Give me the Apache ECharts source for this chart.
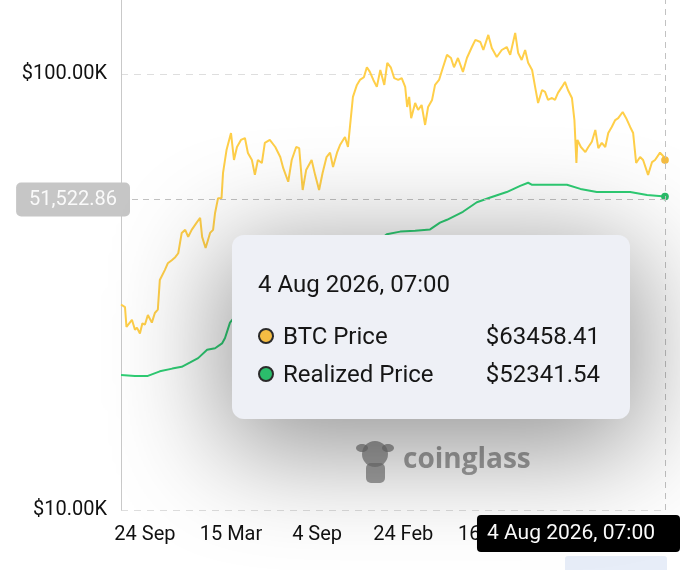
<!DOCTYPE html>
<html><head><meta charset="utf-8">
<script src="https://cdn.jsdelivr.net/npm/echarts@6/dist/echarts.min.js"></script>
<style>html,body{margin:0;padding:0;background:#fff;}#main{width:680px;height:570px;}</style>
</head><body><div id="main"></div>
<script>
// ---- data ----
const btcSeries = [
['2023-08-07',29600],['2023-08-11',29400],['2023-08-15',29200],['2023-08-18',26300],['2023-08-22',26100],
['2023-08-29',27300],['2023-09-04',25900],['2023-09-08',26200],['2023-09-14',25400],['2023-09-19',26800],
['2023-09-24',26600],['2023-09-30',28000],['2023-10-08',26900],['2023-10-14',28300],['2023-10-20',28800],
['2023-10-24',33700],['2023-11-03',35500],['2023-11-09',36800],['2023-11-17',37400],['2023-11-24',38000],
['2023-11-30',38800],['2023-12-07',43200],['2023-12-14',43900],['2023-12-20',42300],['2023-12-27',43900],
['2024-01-06',45600],['2024-01-13',46800],['2024-01-17',42300],['2024-01-24',39900],['2024-02-02',43200],
['2024-02-08',43900],['2024-02-12',48000],['2024-02-18',51900],['2024-02-25',51900],['2024-02-28',59300],
['2024-03-06',66900],['2024-03-15',73200],['2024-03-21',63500],['2024-03-27',68000],['2024-04-04',70600],
['2024-04-12',71300],['2024-04-18',65900],['2024-04-26',63500],['2024-05-02',58700],['2024-05-08',63500],
['2024-05-16',62500],['2024-05-22',69500],['2024-06-01',70600],['2024-06-12',68000],['2024-06-22',64500],
['2024-06-28',60800],['2024-07-02',61200],['2024-07-08',56600],['2024-07-15',63500],['2024-07-24',68000],
['2024-07-30',67600],['2024-08-06',54200],['2024-08-13',60200],['2024-08-24',63500],['2024-08-31',58700],
['2024-09-08',54200],['2024-09-15',59300],['2024-09-23',64500],['2024-09-30',66000],['2024-10-06',61200],
['2024-10-14',66000],['2024-10-20',68700],['2024-10-30',71700],['2024-11-05',68000],['2024-11-09',75600],
['2024-11-15',88600],['2024-11-23',94400],['2024-11-29',96900],['2024-12-07',98300],['2024-12-13',103600],
['2024-12-19',101100],['2024-12-26',96900],['2025-01-02',93400],['2025-01-09',102100],['2025-01-17',94400],
['2025-01-23',106100],['2025-01-30',103600],['2025-02-06',97800],['2025-02-14',96900],['2025-02-21',97800],
['2025-02-28',93400],['2025-03-04',84000],['2025-03-08',88600],['2025-03-12',79200],['2025-03-20',85800],
['2025-03-26',82700],['2025-04-02',84900],['2025-04-09',76400],['2025-04-15',84000],['2025-04-23',87200],
['2025-04-29',94400],['2025-05-07',96900],['2025-05-15',103600],['2025-05-23',110600],['2025-05-31',108800],
['2025-06-06',103600],['2025-06-14',108800],['2025-06-24',101100],['2025-07-02',108800],['2025-07-12',115300],
['2025-07-19',119700],['2025-07-29',118400],['2025-08-04',113500],['2025-08-14',122900],['2025-08-21',114700],
['2025-08-31',109400],['2025-09-10',113500],['2025-09-20',115300],['2025-09-27',110600],['2025-10-07',124200],
['2025-10-13',111700],['2025-10-20',107700],['2025-10-27',113500],['2025-11-02',106100],['2025-11-10',102100],
['2025-11-16',93400],['2025-11-22',85800],['2025-11-30',91900],['2025-12-06',91000],['2025-12-12',87200],
['2025-12-20',88100],['2025-12-26',87200],['2026-01-01',90500],['2026-01-09',93400],['2026-01-15',95900],
['2026-01-21',91900],['2026-01-29',88100],['2026-02-03',78400],['2026-02-07',62500],['2026-02-09',70600],
['2026-02-16',68000],['2026-02-25',66200],['2026-03-03',68000],['2026-03-10',69900],['2026-03-17',74400],
['2026-03-23',67600],['2026-03-30',69500],['2026-04-06',68000],['2026-04-12',73200],['2026-04-19',75600],
['2026-04-26',78400],['2026-05-02',79200],['2026-05-11',81800],['2026-05-18',79200],['2026-05-26',75600],
['2026-06-01',73200],['2026-06-07',62500],['2026-06-15',64500],['2026-06-21',63500],['2026-07-01',58700],
['2026-07-09',62800],['2026-07-15',63500],['2026-07-25',66000],['2026-08-02',64500],['2026-08-04',63458.41]
];
const realizedSeries = [
['2023-08-07',20400],['2023-09-04',20300],['2023-09-30',20300],['2023-10-24',20800],['2023-11-18',21100],
['2023-12-07',21300],['2023-12-24',21800],['2024-01-09',22300],['2024-01-27',23300],['2024-02-12',23500],
['2024-02-26',24100],['2024-03-03',24800],['2024-03-13',26900],['2024-04-01',28600],['2024-05-01',29800],
['2024-06-01',30500],['2024-07-01',30900],['2024-08-01',31200],['2024-09-01',31300],['2024-10-01',31600],
['2024-11-01',33000],['2024-12-01',37500],['2025-01-01',41000],['2025-01-22',42900],['2025-02-18',43500],
['2025-03-20',43700],['2025-04-19',44000],['2025-05-09',45600],['2025-05-23',46300],['2025-06-24',48300],
['2025-07-22',50800],['2025-08-18',52100],['2025-09-20',53600],['2025-10-17',55400],['2025-11-02',56300],
['2025-11-10',55700],['2025-12-10',55700],['2026-01-19',55700],['2026-02-15',54500],['2026-03-20',53600],
['2026-04-22',53600],['2026-05-26',53600],['2026-06-29',52800],['2026-08-04',52341.54]
];
const xTickDates = ['2023-09-24','2024-03-15','2024-09-04','2025-02-24','2025-08-16','2026-02-05'];
const yTickValues = [10000, 100000];
const xRange = ['2023-08-07','2026-08-04'];
const yRange = [10000, 147800];
const cursorDate = '2026-08-04';
const cursorValue = 51522.86;
const seriesNames = ['BTC Price','Realized Price'];
const seriesColors = ['#F5BD43','#2BBD6B'];
const MONTHS = ['Jan','Feb','Mar','Apr','May','Jun','Jul','Aug','Sep','Oct','Nov','Dec'];

function ts(d){ return Date.parse(d + 'T07:00:00Z'); }
function pad(n){ return (n<10?'0':'')+n; }
function fmtShort(v){ const d=new Date(v); return d.getUTCDate()+' '+MONTHS[d.getUTCMonth()]; }
function fmtFull(v){ const d=new Date(Math.round(v/60000)*60000); return d.getUTCDate()+' '+MONTHS[d.getUTCMonth()]+' '+d.getUTCFullYear()+', '+pad(d.getUTCHours())+':'+pad(d.getUTCMinutes()); }

const chart = echarts.init(document.getElementById('main'));
const dot = c => '<span style="display:inline-block;width:12px;height:12px;border-radius:50%;border:2.5px solid #2b2b2b;background:'+c+';vertical-align:middle;margin-right:9px;position:relative;top:-2px"></span>';

const option = {
  animation: false,
  backgroundColor: '#fff',
  textStyle: { fontFamily: 'Roboto' },
  grid: { left: 121, right: 15, top: 0, bottom: 60 },
  xAxis: {
    type: 'value', min: ts(xRange[0]), max: ts(xRange[1]),
    axisLine: { show: false }, axisTick: { show: false, customValues: xTickDates.map(ts) }, splitLine: { show: false },
    axisLabel: { customValues: xTickDates.map(ts), formatter: v => fmtShort(v), color: '#111', fontSize: 20, margin: 15, hideOverlap: false },
    axisPointer: { snap: true, label: { backgroundColor: '#000', color: '#fff', fontSize: 21, padding: [8, 25, 8, 10], borderRadius: 4, margin: 5, formatter: p => fmtFull(p.value) } }
  },
  yAxis: {
    type: 'log', logBase: 10, min: yRange[0], max: yRange[1],
    axisLine: { show: true, lineStyle: { color: '#c9c9c9', width: 1 } },
    axisTick: { show: false, customValues: yTickValues },
    splitLine: { show: true, lineStyle: { type: [7, 6], color: '#dedede' } },
    axisLabel: { customValues: yTickValues, formatter: v => '$' + (v/1000).toFixed(2) + 'K', color: '#111', fontSize: 20, margin: 14 },
    axisPointer: { snap: false, label: { backgroundColor: '#c6c6c6', color: '#fafafa', fontSize: 20, padding: [7, 13, 7, 13], borderRadius: 5, margin: -9,
      formatter: () => cursorValue.toLocaleString('en-US', { minimumFractionDigits: 2, maximumFractionDigits: 2 }) } }
  },
  tooltip: {
    trigger: 'axis', triggerOn: 'none', alwaysShowContent: true, transitionDuration: 0,
    axisPointer: { type: 'cross', lineStyle: { type: [6, 5], color: '#c2c2c2', width: 1 }, crossStyle: { type: [6, 5], color: '#c2c2c2', width: 1 } },
    position: [232, 235], padding: 0, backgroundColor: '#eef0f6', borderWidth: 0, borderRadius: 12,
    extraCssText: 'width:398px;height:184px;box-sizing:border-box;box-shadow:0 22px 110px 10px rgba(0,0,0,0.42);',
    formatter: function (params) {
      const rows = params.map((p, i) =>
        '<div style="position:absolute;left:26px;right:30px;top:' + (86 + i * 38) + 'px;line-height:30px;height:30px">' +
        dot(seriesColors[p.seriesIndex]) + '<span>' + p.seriesName + '</span>' +
        '<span style="position:absolute;right:0;top:0">$' + p.value[1].toFixed(2) + '</span></div>').join('');
      return '<div style="position:relative;width:398px;height:184px;font-family:Roboto;font-size:24px;color:#161616">' +
        '<div style="position:absolute;left:26px;top:34px;line-height:30px">' + fmtFull(params[0].value[0]) + '</div>' + rows + '</div>';
    }
  },
  graphic: [
    { type: 'group', left: 356, top: 441, z: 1, children: [
      { type: 'circle', shape: { cx: 18, cy: 15, r: 13 }, style: { fill: 'rgba(120,120,120,0.7)' } },
      { type: 'ellipse', shape: { cx: 5, cy: 9, rx: 6, ry: 4 }, style: { fill: 'rgba(120,120,120,0.7)' } },
      { type: 'ellipse', shape: { cx: 31, cy: 9, rx: 6, ry: 4 }, style: { fill: 'rgba(120,120,120,0.7)' } },
      { type: 'rect', shape: { x: 9, y: 24, width: 19, height: 20, r: 5 }, style: { fill: 'rgba(120,120,120,0.7)' } }
    ]},
    { type: 'text', left: 403, top: 446, z: 1, style: { text: 'coinglass', fill: 'rgba(120,120,120,0.7)', font: 'bold 28px "Open Sans"' } },
    { type: 'rect', left: 565, top: 556, z: 1, shape: { width: 102, height: 16, r: 3 }, style: { fill: '#e7edf8' } }
  ],
  series: [
    { name: seriesNames[0], type: 'line', data: btcSeries.map(p => [ts(p[0]), p[1]]), showSymbol: false, symbol: 'circle', symbolSize: 7,
      lineStyle: { width: 2, color: seriesColors[0] }, itemStyle: { color: seriesColors[0] }, z: 3 },
    { name: seriesNames[1], type: 'line', data: realizedSeries.map(p => [ts(p[0]), p[1]]), showSymbol: false, symbol: 'circle', symbolSize: 7,
      lineStyle: { width: 2, color: seriesColors[1] }, itemStyle: { color: seriesColors[1] }, z: 3 }
  ]
};
chart.setOption(option);
const px = chart.convertToPixel({ xAxisIndex: 0 }, ts(cursorDate)) - 0.1;
const py = chart.convertToPixel({ yAxisIndex: 0 }, cursorValue);
chart.dispatchAction({ type: 'showTip', x: px, y: py });
</script></body></html>
